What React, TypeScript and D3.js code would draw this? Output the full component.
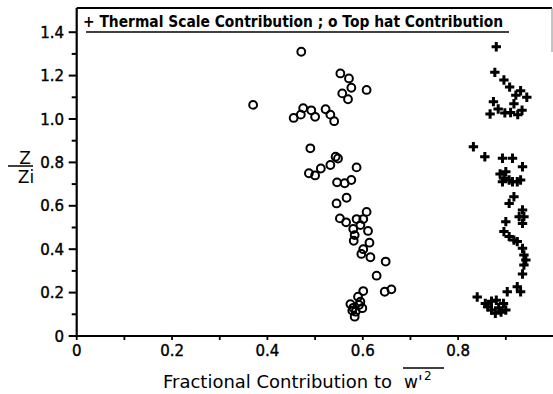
import React from "react";
import * as d3 from "d3";

const topHatX = [0.471, 0.37, 0.553, 0.571, 0.576, 0.608, 0.557, 0.569,
  0.455, 0.47, 0.475, 0.492, 0.5, 0.522, 0.532, 0.54,
  0.49, 0.543, 0.548, 0.532, 0.587, 0.487, 0.5, 0.512,
  0.546, 0.562, 0.576, 0.566, 0.545, 0.608,
  0.552, 0.565, 0.587, 0.601, 0.595, 0.58, 0.611, 0.583, 0.581, 0.614, 0.601, 0.597, 0.616, 0.648, 0.629,
  0.601, 0.646, 0.66, 0.59, 0.574, 0.595, 0.599, 0.578, 0.585, 0.583, 0.592, 0.58];
const topHatZ = [1.31, 1.065, 1.21, 1.187, 1.144, 1.134, 1.118, 1.091,
  1.005, 1.02, 1.05, 1.04, 1.01, 1.045, 1.02, 0.99,
  0.865, 0.826, 0.818, 0.788, 0.777, 0.75, 0.74, 0.772,
  0.708, 0.704, 0.719, 0.637, 0.611, 0.572,
  0.542, 0.524, 0.539, 0.539, 0.511, 0.493, 0.484, 0.465, 0.439, 0.43, 0.4, 0.378, 0.363, 0.343, 0.278,
  0.207, 0.204, 0.215, 0.181, 0.147, 0.158, 0.128, 0.117, 0.112, 0.089, 0.143, 0.13];

const thermalX = [0.88, 0.877, 0.896, 0.908, 0.931, 0.921, 0.944, 0.917, 0.874, 0.884, 0.867, 0.934, 0.91, 0.898, 0.925,
  0.832, 0.856, 0.893, 0.914, 0.935, 0.9, 0.896, 0.907, 0.893, 0.914, 0.924, 0.931, 0.888,
  0.917, 0.907, 0.935, 0.928, 0.938, 0.9, 0.935, 0.896, 0.907, 0.917, 0.924, 0.935, 0.938, 0.942, 0.938, 0.935, 0.924, 0.903, 0.931,
  0.84, 0.857, 0.87, 0.88, 0.87, 0.885, 0.895, 0.878, 0.89, 0.862, 0.9];
const thermalZ = [1.333, 1.215, 1.18, 1.147, 1.13, 1.11, 1.1, 1.07, 1.08, 1.046, 1.023, 1.04, 1.03, 1.028, 1.02,
  0.872, 0.826, 0.819, 0.819, 0.78, 0.757, 0.727, 0.719, 0.711, 0.711, 0.711, 0.719, 0.747,
  0.642, 0.611, 0.581, 0.55, 0.55, 0.527, 0.519, 0.481, 0.458, 0.442, 0.435, 0.404, 0.373, 0.35, 0.327, 0.286, 0.227, 0.204, 0.204,
  0.18, 0.15, 0.16, 0.165, 0.12, 0.13, 0.15, 0.105, 0.11, 0.135, 0.12];

const yMajor = [0, 0.2, 0.4, 0.6, 0.8, 1.0, 1.2, 1.4];
const yMajorLabels = ["0", "0.2", "0.4", "0.6", "0.8", "1.0", "1.2", "1.4"];
const yMinor = [0.1, 0.3, 0.5, 0.7, 0.9, 1.1, 1.3];
const xTicks = [0, 0.1, 0.2, 0.3, 0.4, 0.5, 0.6, 0.7, 0.8, 0.9];
const xLabelVals = [0, 0.2, 0.4, 0.6, 0.8];
const xLabels = ["0", "0.2", "0.4", "0.6", "0.8"];

const FONT = "'DejaVu Sans', 'Liberation Sans', sans-serif";

export default function App() {
  const W = 553, H = 394;
  const x = d3.scaleLinear().domain([0, 1]).range([76.7, 553.5]);
  const y = d3.scaleLinear().domain([0, 1.5]).range([336, 10.5]);
  const x0 = x(0), y0 = y(0);
  const plus = (cx: number, cy: number) => {
    const p = d3.path();
    const a = 4.7;
    p.moveTo(cx - a, cy); p.lineTo(cx + a, cy);
    p.moveTo(cx, cy - a); p.lineTo(cx, cy + a);
    return p.toString();
  };
  return (
    <div style={{ position: "absolute", left: 0, top: 0, width: W, height: H, background: "#fff" }}>
      <svg width={W} height={H} style={{ display: "block" }}>
        <rect width={W} height={H} fill="#fff" />
        {/* frame */}
        <line x1={x0} y1={8} x2={552} y2={8} stroke="#000" strokeWidth={2} />
        <line x1={552} y1={8} x2={552} y2={52} stroke="#888" strokeWidth={1} />
        <line x1={x0} y1={8} x2={x0} y2={y0 + 1} stroke="#000" strokeWidth={2.2} />
        <line x1={x0 - 1} y1={y0} x2={W} y2={y0} stroke="#000" strokeWidth={2.2} />
        {/* y ticks */}
        {yMajor.map((v, i) => (
          <g key={"ym" + i}>
            <line x1={x0 - 8} x2={x0} y1={y(v)} y2={y(v)} stroke="#000" strokeWidth={2} />
            <text x={64} y={y(v) + 5.5} textAnchor="end" fontFamily={FONT} fontSize={15} fill="#000" stroke="#000" strokeWidth={0.4}>{yMajorLabels[i]}</text>
          </g>
        ))}
        {yMinor.map((v, i) => (
          <line key={"yn" + i} x1={x0 - 5} x2={x0} y1={y(v)} y2={y(v)} stroke="#000" strokeWidth={2} />
        ))}
        {/* x ticks */}
        {xTicks.map((v, i) => (
          <line key={"xt" + i} x1={x(v)} x2={x(v)} y1={y0} y2={y0 + 4} stroke="#000" strokeWidth={1.8} />
        ))}
        {xLabelVals.map((v, i) => (
          <text key={"xl" + i} x={x(v)} y={356} textAnchor="middle" fontFamily={FONT} fontSize={15} fill="#000" stroke="#000" strokeWidth={0.4}>{xLabels[i]}</text>
        ))}
        {/* axis titles */}
        <text x={25} y={164} textAnchor="middle" fontFamily={FONT} fontSize={17} fill="#000">Z</text>
        <line x1={8} x2={33} y1={166} y2={166} stroke="#000" strokeWidth={1.5} />
        <text x={26} y={183} textAnchor="middle" fontFamily={FONT} fontSize={17} fill="#000">Zi</text>
        <text x={163} y={388} fontFamily={FONT} fontSize={17} fill="#000" textLength={229} lengthAdjust="spacingAndGlyphs">Fractional Contribution to</text>
        <text x={404} y={388} fontFamily={FONT} fontSize={17} fill="#000">w'</text>
        <text x={424} y={380} fontFamily={FONT} fontSize={12} fill="#000">2</text>
        <line x1={403} x2={444} y1={368} y2={368} stroke="#000" strokeWidth={1.5} />
        {/* legend */}
        <text x={83} y={27} fontFamily={FONT} fontSize={15} fontWeight="bold" fill="#000" textLength={420} lengthAdjust="spacingAndGlyphs">+ Thermal Scale Contribution ; o Top hat Contribution</text>
        <line x1={86} x2={509} y1={32} y2={32} stroke="#000" strokeWidth={1.5} />
        {/* data */}
        {topHatX.map((v, i) => (
          <circle key={"th" + i} cx={x(v)} cy={y(topHatZ[i])} r={3.9} fill="none" stroke="#000" strokeWidth={2} />
        ))}
        {thermalX.map((v, i) => (
          <path key={"tm" + i} d={plus(x(v), y(thermalZ[i]))} stroke="#000" strokeWidth={3} fill="none" />
        ))}
      </svg>
    </div>
  );
}
